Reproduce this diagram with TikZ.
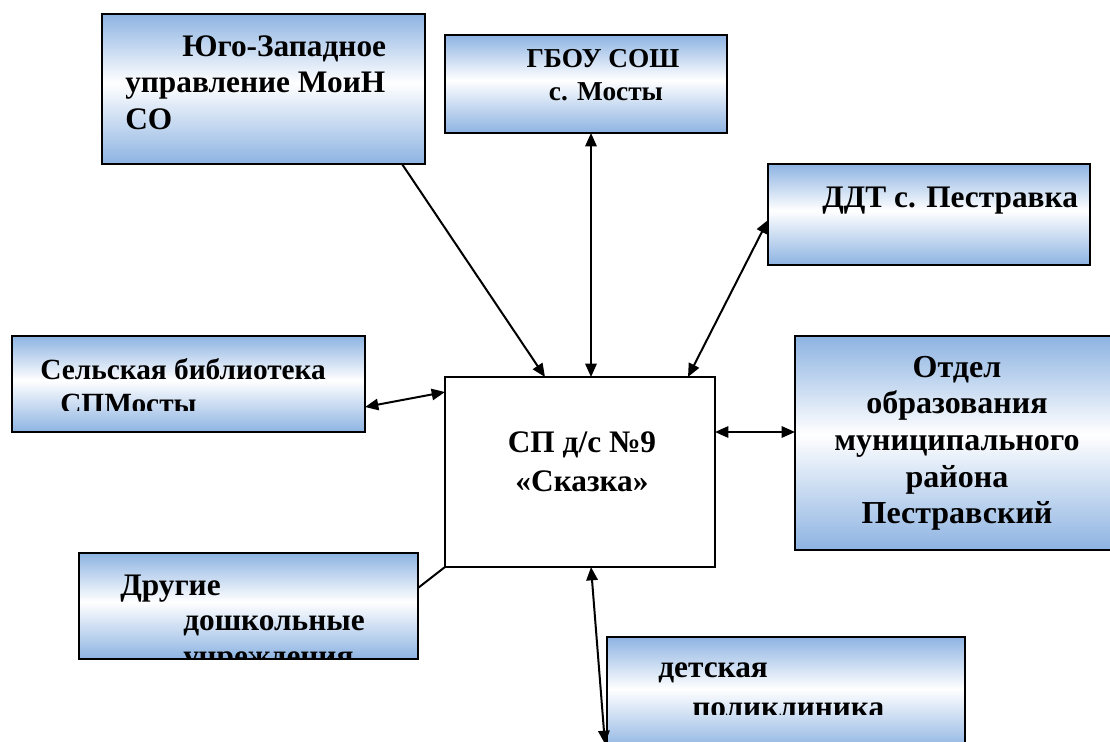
\documentclass[tikz,border=0pt]{standalone}
\usepackage{fontspec}
\setmainfont{Liberation Serif}
\usetikzlibrary{arrows.meta,calc}
\definecolor{bxblue}{RGB}{141,179,226}
\pgfdeclareverticalshading{boxshade}{100bp}{color(0bp)=(bxblue); color(25bp)=(bxblue); color(52bp)=(white); color(75bp)=(bxblue); color(100bp)=(bxblue)}
\newcommand\mkbox[6]{%
  \node[#6, minimum width={(#4-#2)*0.75pt}, minimum height={(#5-#3)*0.75pt}] (#1) at ({(#2+#4)/2},{(#3+#5)/2}) {};}
\begin{document}
\begin{tikzpicture}[x=0.75pt,y=-0.75pt,
  boxbase/.style={rectangle, draw=black, line width=1.6pt, inner sep=0pt, outer sep=0pt},
  gbox/.style={boxbase, shading=boxshade},
  wbox/.style={boxbase, fill=white},
  lbl/.style={font=\bfseries\fontsize{23.5}{28}\selectfont, inner sep=0pt, text=black},
  lblM/.style={font=\bfseries\fontsize{22}{26}\selectfont, inner sep=0pt, text=black},
  lblS/.style={font=\bfseries\fontsize{20.5}{24}\selectfont, inner sep=0pt, text=black},
  lblL/.style={font=\bfseries\fontsize{24}{28}\selectfont, inner sep=0pt, text=black},
  conn/.style={line width=1.5pt, draw=black},
  tip/.style={},
  biarr/.style={conn, {Triangle[length=10pt,width=8.5pt]}-{Triangle[length=10pt,width=8.5pt]}},
  onearr/.style={conn, -{Triangle[length=10pt,width=8.5pt]}},
]
\useasboundingbox (0,0) rectangle (1110,742);
\mkbox{yz}{102}{14}{425}{164}{gbox}
\mkbox{gb}{445}{35}{727}{133}{gbox}
\mkbox{dd}{768}{164}{1090}{265}{gbox}
\mkbox{sel}{12}{336}{365}{432}{gbox}
\mkbox{c}{445}{377}{715}{567}{wbox}
\mkbox{ot}{795}{336}{1114}{550}{gbox}
\mkbox{dr}{79}{553}{418}{659}{gbox}
\mkbox{de}{607}{637}{965}{750}{gbox}
\coordinate (deend) at (605,744);

% texts
\node[lbl, anchor=base west] (yz1) at (182,57) {Юго-Западное};
\node[lbl, anchor=base west] (yz2) at (125,93) {управление МоиН};
\node[lbl, anchor=base west] (yz3) at (125,129) {СО};

\node[lblS, anchor=base] (gb1) at (603,68) {ГБОУ СОШ};
\node[lblS, anchor=base] (gb2) at (606,101) {с. Мосты};

\node[lbl, anchor=base west] (dd1) at (822,207) {ДДТ с. Пестравка};

\begin{scope}
\clip (12,336) rectangle (365,410);
\node[lblM, anchor=base west] (sel1) at (40,379) {Сельская библиотека};
\node[lblM, anchor=base west] (sel2) at (60,413) {СПМосты};
\end{scope}

\node[lbl, anchor=base] (c1) at (582,452) {СП д/с №9};
\node[lbl, anchor=base] (c2) at (582,491) {«Сказка»};

\node[lblL, anchor=base] (ot1) at (957,377) {Отдел};
\node[lblL, anchor=base] (ot2) at (957,413) {образования};
\node[lblL, anchor=base] (ot3) at (957,450) {муниципального};
\node[lblL, anchor=base] (ot4) at (957,487) {района};
\node[lblL, anchor=base] (ot5) at (957,523) {Пестравский};

\begin{scope}
\clip (79,553) rectangle (418,659);
\node[lbl, anchor=base west] (dr1) at (120,595) {Другие};
\node[lbl, anchor=base west] (dr2) at (183,630) {дошкольные};
\node[lbl, anchor=base west] (dr3) at (183,666) {учреждения};
\end{scope}

\begin{scope}
\clip (607,637) rectangle (965,714);
\node[lbl, anchor=base west] (de1) at (658,677) {детская};
\node[lbl, anchor=base west] (de2) at (692,717) {поликлиника};
\end{scope}

% connectors
\draw[onearr] ($(yz.south west)+(300,0)$) -- ($(c.north west)+(100,0)$);
\draw[biarr] ($(gb.south west)+(146,0)$) -- ($(c.north west)+(146,0)$);
\draw[biarr] ($(dd.north west)+(0,56)$) -- ($(c.north west)+(243,0)$);
\draw[biarr] ($(sel.north east)+(0,71)$) -- ($(c.north west)+(0,15)$);
\draw[biarr] ($(c.north east)+(0,55)$) -- ($(ot.north west)+(0,96)$);
\draw[conn] ($(dr.north east)+(0,35)$) -- (c.south west);
\draw[biarr] ($(c.south west)+(146,0)$) -- (deend);
\end{tikzpicture}
\end{document}
